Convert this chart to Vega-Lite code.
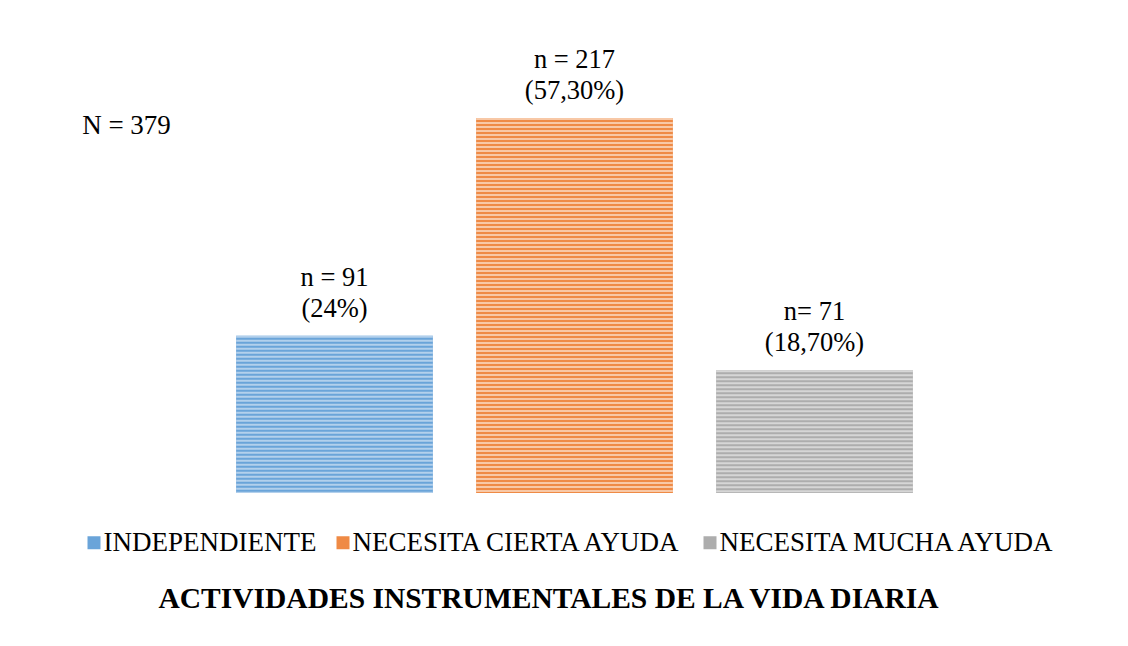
{
  "$schema": "https://vega.github.io/schema/vega-lite/v6.json",
  "autosize": "none",
  "width": 720,
  "height": 432,
  "padding": {"left": 214.5, "top": 61, "right": 193.5, "bottom": 153},
  "background": "white",
  "title": {
    "text": "ACTIVIDADES INSTRUMENTALES DE LA VIDA DIARIA",
    "orient": "bottom",
    "anchor": "middle",
    "offset": 17,
    "dx": -26,
    "font": "Liberation Serif",
    "fontSize": 29.5,
    "fontWeight": "bold",
    "color": "black",
    "baseline": "alphabetic"
  },
  "data": {
    "values": [
      {"categoria": "INDEPENDIENTE", "n": 91, "etiqueta": "n = 91\n(24%)"},
      {"categoria": "NECESITA CIERTA AYUDA", "n": 217, "etiqueta": "n = 217\n(57,30%)"},
      {"categoria": "NECESITA MUCHA AYUDA", "n": 71, "etiqueta": "n= 71\n(18,70%)"}
    ]
  },
  "encoding": {
    "x": {
      "field": "categoria",
      "type": "nominal",
      "sort": null,
      "axis": null,
      "scale": {"paddingInner": 0.18, "paddingOuter": 0.09}
    },
    "y": {
      "field": "n",
      "type": "quantitative",
      "scale": {"domain": [0, 250], "nice": false},
      "axis": {
        "title": "N = 379",
        "domain": false,
        "ticks": false,
        "labels": false,
        "grid": false,
        "titleAngle": 0,
        "titleX": -88.5,
        "titleY": 72,
        "titleAlign": "center",
        "titleBaseline": "alphabetic",
        "titleFont": "Liberation Serif",
        "titleFontSize": 27,
        "titleFontWeight": "normal",
        "titleColor": "black"
      }
    }
  },
  "layer": [
    {
      "mark": {"type": "bar", "opacity": 1, "fillOpacity": 1},
      "encoding": {
        "fill": {
          "field": "categoria",
          "type": "nominal",
          "sort": null,
          "scale": {
            "domain": ["INDEPENDIENTE", "NECESITA CIERTA AYUDA", "NECESITA MUCHA AYUDA"],
            "range": ["#6aa4d9", "#ef8a45", "#adadad"]
          },
          "legend": {
            "title": null,
            "orient": "none",
            "direction": "horizontal",
            "legendX": -134,
            "legendY": 468,
            "symbolType": "square",
            "symbolSize": 169,
            "symbolStrokeWidth": 0,
            "symbolOpacity": 1,
            "labelFont": "Liberation Serif",
            "labelFontSize": 27,
            "labelColor": "black",
            "labelLimit": 500,
            "labelOffset": -4,
            "columnPadding": 13
          }
        }
      }
    },
    {
      "mark": {
        "type": "rule",
        "strokeWidth": 196.8,
        "strokeDash": [2, 2],
        "strokeCap": "butt",
        "opacity": 1
      },
      "encoding": {
        "y2": {"datum": 0},
        "stroke": {
          "field": "categoria",
          "type": "nominal",
          "sort": null,
          "scale": {
            "domain": ["INDEPENDIENTE", "NECESITA CIERTA AYUDA", "NECESITA MUCHA AYUDA"],
            "range": ["#b3d0ec", "#f8c8a6", "#d6d6d6"]
          },
          "legend": null
        }
      }
    },
    {
      "mark": {
        "type": "text",
        "baseline": "bottom",
        "align": "center",
        "dy": -44,
        "lineBreak": "\n",
        "lineHeight": 31,
        "font": "Liberation Serif",
        "fontSize": 26.5,
        "color": "black"
      },
      "encoding": {
        "text": {"field": "etiqueta", "type": "nominal"}
      }
    }
  ],
  "config": {
    "view": {"stroke": null}
  }
}
